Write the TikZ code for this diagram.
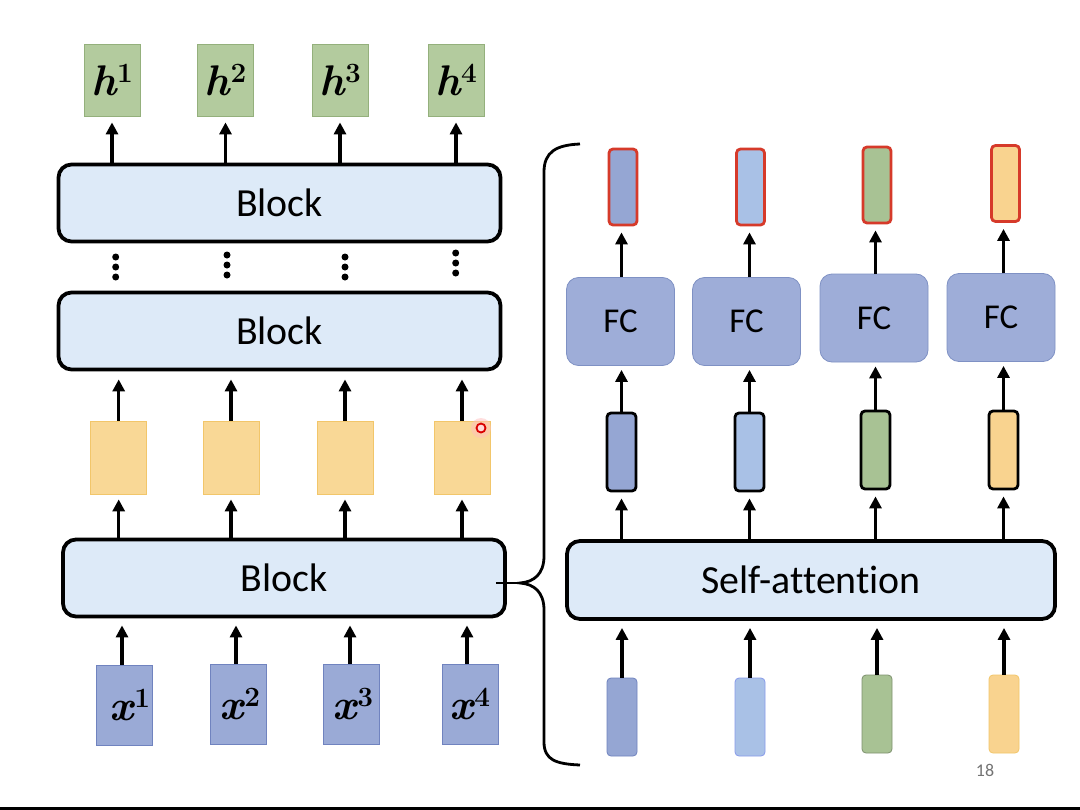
\documentclass[tikz,border=0pt]{standalone}
\usepackage{fontspec}
\setmainfont{Carlito}[Ligatures={TeX,NoCommon}]
\newfontfamily\lmrfam{Latin Modern Roman}
\newcommand\vlab[2]{{\lmrfam\bfseries\itshape #1}\kern0.5bp\raisebox{0.3em}{\fontsize{28}{29}\selectfont\lmrfam\bfseries #2}}
\usetikzlibrary{arrows.meta,calc}
\definecolor{blockfill}{HTML}{DDEAF8}
\definecolor{hgreen}{HTML}{B3CB9E}
\definecolor{hgreenb}{HTML}{94B07C}
\definecolor{yel}{HTML}{F9D896}
\definecolor{yelb}{HTML}{F2C66A}
\definecolor{xblue}{HTML}{9AAAD6}
\definecolor{xblueb}{HTML}{7083BF}
\definecolor{fcfill}{HTML}{9EADD8}
\definecolor{fcb}{HTML}{7F91C4}
\definecolor{vA}{HTML}{95A6D3}
\definecolor{vB}{HTML}{A9C1E6}
\definecolor{vC}{HTML}{A8C294}
\definecolor{vD}{HTML}{F9D38F}
\definecolor{redb}{HTML}{D63A2A}
\begin{document}
\begin{tikzpicture}[x=1bp,y=-1bp,
  blockbox/.style={draw=black, line width=3.8bp, fill=blockfill, rounded corners=13bp,
    minimum width=442bp, minimum height=77bp, inner sep=0pt,
    font=\fontsize{40}{46}\selectfont},
  hbox/.style={draw=hgreenb, line width=0.8bp, fill=hgreen, minimum width=56bp, minimum height=72bp, inner sep=0pt,
    font=\fontsize{43}{44}\selectfont},
  ybox/.style={draw=yelb, line width=0.8bp, fill=yel, minimum width=56bp, minimum height=73bp, inner sep=0pt},
  xbox/.style={draw=xblueb, line width=0.8bp, fill=xblue, minimum width=56bp, minimum height=80bp, inner sep=0pt,
    font=\fontsize{43}{44}\selectfont},
  fcbox/.style={draw=fcb, line width=0.8bp, fill=fcfill, rounded corners=12bp, minimum width=108bp, minimum height=88bp, inner sep=0pt,
    font=\fontsize{35}{40}\selectfont},
  vecred/.style={draw=redb, line width=2.8bp, rounded corners=4bp, minimum width=28bp, minimum height=76bp, inner sep=0pt},
  vecblk/.style={draw=black, line width=2.8bp, rounded corners=4bp, minimum width=29bp, minimum height=78bp, inner sep=0pt},
  vecin/.style={line width=0.8bp, rounded corners=4bp, minimum width=30bp, minimum height=78bp, inner sep=0pt},
  arr/.style={line width=3.3bp, -{Triangle[length=12bp,width=12bp]}},
  dotmark/.style={circle, fill=black, inner sep=0pt, minimum size=7bp},
]
\useasboundingbox (0,0) rectangle (1080,810);
\fill[white] (0,0) rectangle (1080,810);
\fill[black] (0,806.5) rectangle (1080,810);

% ---------- left side ----------
\node[hbox] (h1) at (112,80) {\vlab{h}{1}};
\node[hbox] (h2) at (225.5,80) {\vlab{h}{2}};
\node[hbox] (h3) at (340,80) {\vlab{h}{3}};
\node[hbox] (h4) at (456,80) {\vlab{h}{4}};

\node[blockbox] (blk3) at (279.5,203) {Block};
\node[blockbox] (blk2) at (279.5,331) {Block};
\node[blockbox] (blk1) at (284,578) {Block};

\foreach \i in {1,...,4}{
  \draw[arr, shorten >=6bp] (blk3.north -| h\i) -- (h\i.south);
}

% vertical dots
\foreach \n/\x/\y in {a/115.7/257, b/227/255, c/345/257, d/455.7/253}{
  \node[dotmark] (d\n1) at (\x,\y) {};
  \node[dotmark] (d\n2) at (\x,\y+10) {};
  \node[dotmark] (d\n3) at (\x,\y+20) {};
}

\node[ybox] (y1) at (118.7,457.5) {};
\node[ybox] (y2) at (231,457.5) {};
\node[ybox] (y3) at (345,457.5) {};
\node[ybox] (y4) at (462,457.5) {};

\foreach \i in {1,...,4}{
  \draw[arr, shorten >=8bp] (y\i.north) -- (y\i.north |- blk2.south);
  \draw[arr, shorten >=5bp] (blk1.north -| y\i) -- (y\i.south);
}

\node[xbox] (x1) at (124,705) {\hspace*{12bp}\vlab{x}{1}};
\node[xbox] (x2) at (238,704) {\hspace*{4bp}\vlab{x}{2}};
\node[xbox] (x3) at (351,704) {\hspace*{4bp}\vlab{x}{3}};
\node[xbox] (x4) at (470,704) {\hspace*{0bp}\vlab{x}{4}};

\draw[arr, shorten >=7bp] ($(x1.north)+(-2,0)$) -- ($(x1.north |- blk1.south)+(-2,0)$);
\draw[arr, shorten >=7bp] ($(x2.north)+(-2,0)$) -- ($(x2.north |- blk1.south)+(-2,0)$);
\draw[arr, shorten >=7bp] ($(x3.north)+(-1,0)$) -- ($(x3.north |- blk1.south)+(-1,0)$);
\draw[arr, shorten >=7bp] ($(x4.north)+(-3,0)$) -- ($(x4.north |- blk1.south)+(-3,0)$);

% cursor mark
\fill[red!25, opacity=0.5] (481,428) circle (10bp);
\draw[red!85!black, line width=1.8bp, fill=red!15] (481,428) circle (4.5bp);

% ---------- brace ----------
\coordinate (tip) at (520,583);
\draw[line width=2.8bp] (580,144) .. controls (556,145) and (544,152) .. (544,172)
  -- (544,556) .. controls (544,574) and (534,582) .. (tip)
  .. controls (534,584) and (544,592) .. (544,610)
  -- (544,742) .. controls (544,760) and (556,764) .. (580,765);
\draw[line width=2.8bp] ([xshift=-11bp]blk1.east |- tip) -- (tip);

% ---------- right side ----------
\node[vecred, fill=vA] (r1) at (623,187) {};
\node[vecred, fill=vB] (r2) at (750.5,187) {};
\node[vecred, fill=vC] (r3) at (877,185) {};
\node[vecred, fill=vD] (r4) at (1005.5,183.5) {};

\node[fcbox] (f1) at (620.5,321.5) {FC};
\node[fcbox] (f2) at (746.5,321.5) {FC};
\node[fcbox] (f3) at (874,318) {FC};
\node[fcbox] (f4) at (1001,317.5) {FC};

\node[vecblk, fill=vA] (m1) at (621.5,452) {};
\node[vecblk, fill=vB] (m2) at (749.5,452) {};
\node[vecblk, fill=vC] (m3) at (875.5,450) {};
\node[vecblk, fill=vD] (m4) at (1003.5,450) {};

\node[blockbox, minimum width=488bp, minimum height=78bp] (sa) at (811,580) {Self-attention};

\node[vecin, fill=vA, draw=xblueb] (i1) at (622,717) {};
\node[vecin, fill=vB, draw=vB!80!blue] (i2) at (750,717) {};
\node[vecin, fill=vC, draw=vC!75!black] (i3) at (877,714) {};
\node[vecin, fill=vD, draw=yelb] (i4) at (1004,714) {};

\foreach \i in {1,...,4}{
  \draw[arr, shorten >=6bp] (f\i.north -| m\i) -- (r\i.south -| m\i);
  \draw[arr, shorten >=4bp] (m\i.north) -- (m\i.north |- f\i.south);
  \draw[arr, shorten >=6bp] (sa.north -| m\i) -- (m\i.south);
  \draw[arr, shorten >=7bp] (i\i.north) -- (i\i.north |- sa.south);
}

\node[text=black!55, font=\fontsize{18}{20}\selectfont] (pg) at (985,770) {18};
\end{tikzpicture}
\end{document}
